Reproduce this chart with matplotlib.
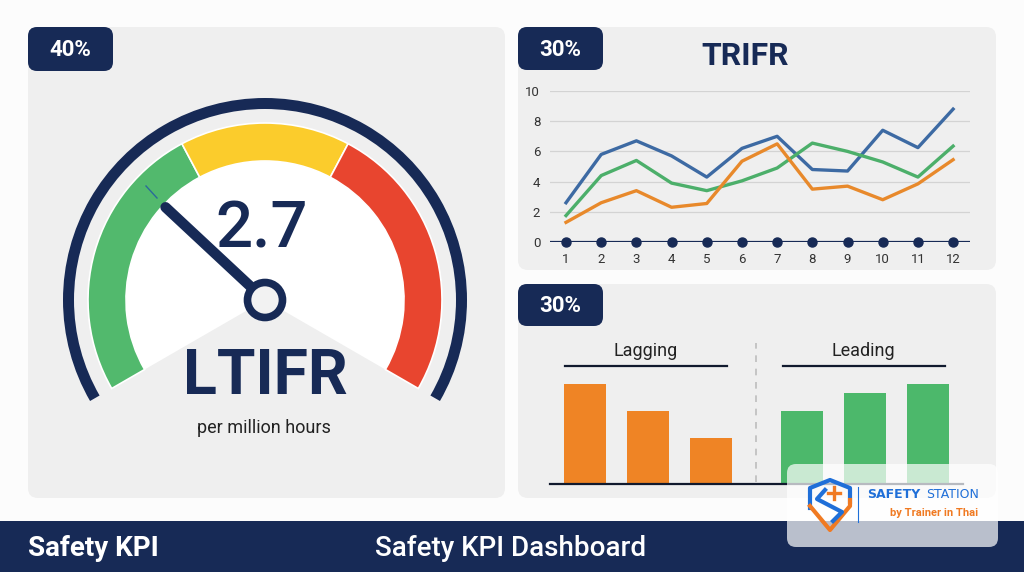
import matplotlib
matplotlib.use("Agg")
import matplotlib.pyplot as plt
from matplotlib.patches import FancyBboxPatch, Wedge, Circle, Rectangle
import numpy as np

plt.rcParams['font.family'] = ['Roboto', 'DejaVu Sans']

W, H = 1024, 572
NAVY = '#172a56'
PANEL = '#efefef'

# --- data ---
gauge_value = "2.7"
gauge_label = "LTIFR"
gauge_unit = "per million hours"
gauge_bands = ['#52b96d', '#fbcc2c', '#e8452f']
badges = ["40%", "30%", "30%"]

months = list(range(1, 13))
trifr_blue = [2.6, 5.8, 6.7, 5.7, 4.3, 6.2, 7.0, 4.8, 4.7, 7.4, 6.25, 8.8]
trifr_green = [1.75, 4.4, 5.4, 3.9, 3.4, 4.05, 4.9, 6.55, 6.0, 5.3, 4.3, 6.35]
trifr_orange = [1.3, 2.6, 3.4, 2.3, 2.55, 5.35, 6.5, 3.5, 3.7, 2.8, 3.85, 5.45]

lagging = [10.0, 7.3, 4.6]
leading = [7.3, 9.1, 10.0]


def frac(x0, y0, x1, y1):
    return [x0 / W, 1 - y1 / H, (x1 - x0) / W, (y1 - y0) / H]


fig = plt.figure(figsize=(W / 100, H / 100), dpi=100)
fig.patch.set_facecolor('#fcfcfc')

bg = fig.add_axes([0, 0, 1, 1])
bg.set_xlim(0, W)
bg.set_ylim(H, 0)
bg.axis('off')

# panels
for (x0, y0, x1, y1) in [(28, 27, 505, 498), (518, 27, 996, 270), (518, 284, 996, 498)]:
    bg.add_patch(FancyBboxPatch((x0, y0), x1 - x0, y1 - y0,
                                boxstyle="round,pad=0,rounding_size=10",
                                fc=PANEL, ec='none', zorder=1))

# badges
for (x0, y0, x1, y1), txt in zip([(28, 27, 113, 71), (518, 27, 603, 70), (518, 284, 603, 326)], badges):
    bg.add_patch(FancyBboxPatch((x0, y0), x1 - x0, y1 - y0,
                                boxstyle="round,pad=0,rounding_size=9",
                                fc=NAVY, ec='none', zorder=2))
    bg.text((x0 + x1) / 2, (y0 + y1) / 2 + 1, txt, color='white', fontsize=16,
            fontweight='bold', ha='center', va='center', zorder=3)

# gauge (pixel coords, y down -> angles mirrored)
cx, cy = 265, 300
bg.add_patch(Wedge((cx, cy), 202, 150, 390, width=11, fc=NAVY, ec='none', zorder=2))
bg.add_patch(Wedge((cx, cy), 139, 150, 390, fc='white', ec='none', zorder=2))
edges = [150, 242, 298, 390]
for i, col in enumerate(gauge_bands):
    bg.add_patch(Wedge((cx, cy), 177, edges[i], edges[i + 1], width=38,
                       fc=col, ec='white', lw=1.2, zorder=3))
bg.plot([146, 157], [186, 198], color='#2a6a9a', lw=1, zorder=3)

ang = np.deg2rad(137)
nx, ny = cx + 136 * np.cos(ang), cy - 136 * np.sin(ang)
bg.plot([cx, nx], [cy, ny], color=NAVY, lw=7.5, solid_capstyle='round', zorder=4)
bg.add_patch(Circle((cx, cy), 17.5, fc='#f2f2f2', ec=NAVY, lw=5.5, zorder=5))

bg.text(262, 230, gauge_value, fontsize=47, color=NAVY, fontweight='medium',
        ha='center', va='center', zorder=4)
bg.text(265, 377, gauge_label, fontsize=45, color=NAVY, fontweight='bold',
        ha='center', va='center', zorder=4)
bg.text(264, 428, gauge_unit, fontsize=13, color='#222222', ha='center', va='center', zorder=4)

# TRIFR title
bg.text(745, 56, "TRIFR", fontsize=23, color=NAVY, fontweight='bold',
        ha='center', va='center', zorder=3)

# bottom bar
bg.add_patch(Rectangle((0, 521), W, H - 521, fc=NAVY, ec='none', zorder=2))
bg.text(28, 549, "Safety KPI", color='white', fontsize=20, fontweight='bold',
        ha='left', va='center', zorder=3)
bg.text(511, 549, "Safety KPI Dashboard", color='white', fontsize=20, fontweight='medium',
        ha='center', va='center', zorder=3)

# line chart
ax = fig.add_axes(frac(550, 91, 970, 242))
ax.set_facecolor('none')
ax.set_xlim(0.545, 12.48)
ax.set_ylim(0, 10)
for s in ax.spines.values():
    s.set_visible(False)
for yv in [2, 4, 6, 8, 10]:
    ax.axhline(yv, color='#d3d3d3', lw=0.9, zorder=1)
ax.plot(months, trifr_blue, color='#3d6aa3', lw=2.4, zorder=3)
ax.plot(months, trifr_green, color='#4caf6a', lw=2.4, zorder=3)
ax.plot(months, trifr_orange, color='#e8892b', lw=2.4, zorder=3)
ax.axhline(0, color=NAVY, lw=1.6, zorder=4)
ax.plot(months, [0] * len(months), 'o', color=NAVY, ms=6.5, clip_on=False, zorder=5)
ax.set_xticks(months)
ax.set_yticks([0, 2, 4, 6, 8, 10])
ax.tick_params(length=0, labelsize=9.5, labelcolor='#333333')
ax.tick_params(axis='x', pad=8)
ax.tick_params(axis='y', pad=7)

# bar chart
bx = fig.add_axes(frac(550, 340, 963, 484))
bx.set_facecolor('none')
bx.set_xlim(-0.557, 6.02)
bx.set_ylim(0, 14.4)
bx.axis('off')
lag_x = [0, 1, 2]
lead_x = [3.46, 4.46, 5.46]
bx.bar(lag_x, lagging, width=0.67, color='#ef8425', zorder=2)
bx.bar(lead_x, leading, width=0.67, color='#4cb86b', zorder=2)
bx.plot([-0.557, 6.02], [0, 0], color='#111a2e', lw=1.6, clip_on=False, zorder=3)
bx.plot([2.72, 2.72], [0.2, 14.1], color='#bdbdbd', lw=1.2, ls=(0, (4, 4)), zorder=1)
bx.text(0.97, 13.3, "Lagging", fontsize=13, color='#222222', ha='center', va='center')
bx.text(4.44, 13.3, "Leading", fontsize=13, color='#222222', ha='center', va='center')
bx.plot([-0.32, 2.26], [11.8, 11.8], color='#111a2e', lw=1.6)
bx.plot([3.15, 5.73], [11.8, 11.8], color='#111a2e', lw=1.6)

# watermark overlay
ov = fig.add_axes([0, 0, 1, 1])
ov.set_xlim(0, W)
ov.set_ylim(H, 0)
ov.axis('off')
ov.patch.set_alpha(0)
ov.add_patch(FancyBboxPatch((787, 464), 211, 83, boxstyle="round,pad=0,rounding_size=9",
                            fc='white', ec='none', alpha=0.7, zorder=1))
BLUE = '#1f6fd8'
ORANGE = '#f07a22'
# shield logo
ov.plot([810, 810, 830, 850, 850], [508, 488, 480, 488, 502], color=BLUE, lw=3,
        solid_joinstyle='round', zorder=2)
ov.plot([810, 830, 850, 850], [506, 530, 506, 500], color=ORANGE, lw=3,
        solid_joinstyle='round', zorder=2)
ov.plot([825, 817, 842, 833], [490, 499, 512, 521], color=BLUE, lw=3, zorder=3)
ov.plot([834, 834], [487, 499], color=ORANGE, lw=2.4, zorder=4)
ov.plot([828, 840], [493, 493], color=ORANGE, lw=2.4, zorder=4)
ov.plot([858, 858], [487, 522], color=BLUE, lw=0.8, zorder=2)
ov.text(867, 494, "SAFETY", fontsize=9, fontweight='bold', color=BLUE,
        family='DejaVu Sans', ha='left', va='center', zorder=3)
ov.text(979, 494, "STATION", fontsize=9, color=BLUE,
        family='DejaVu Sans', ha='right', va='center', zorder=3)
ov.text(978, 513, "by Trainer in Thai", fontsize=8, fontweight='bold', color=ORANGE,
        ha='right', va='center', zorder=3)

fig.savefig('out.png', dpi=100, facecolor=fig.get_facecolor())
